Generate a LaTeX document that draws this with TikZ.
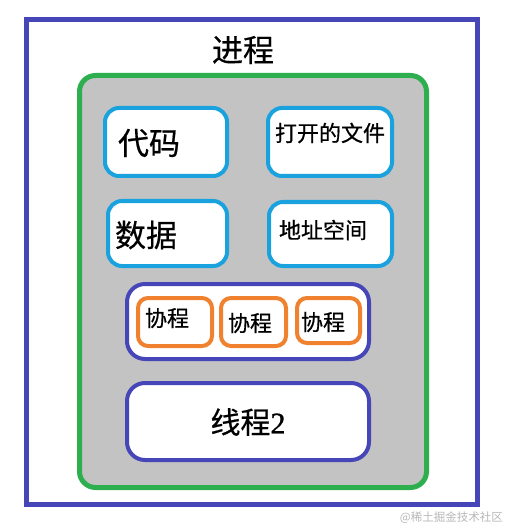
\documentclass[tikz,border=0pt]{standalone}
\usepackage{fontspec}
\newfontfamily\cjk[FakeBold=0.6]{Noto Sans CJK SC}
\newfontfamily\wmfont{Noto Sans CJK SC}
\newfontfamily\digitfont[FakeBold=1]{Liberation Serif}
\setmainfont{Liberation Serif}
\definecolor{frameblue}{HTML}{4646B9}
\definecolor{boxgreen}{HTML}{2DAF50}
\definecolor{boxcyan}{HTML}{1AA2DF}
\definecolor{boxorange}{HTML}{F0822F}
\definecolor{boxgray}{HTML}{C3C3C3}
\definecolor{wmgray}{HTML}{B8B8B8}
\begin{document}
\begin{tikzpicture}[x=1pt,y=-1pt,
  box/.style={draw, fill=white, inner sep=0pt, outer sep=0pt},
  cyanbox/.style={box, draw=boxcyan, line width=4pt, rounded corners=14pt},
  orangebox/.style={box, draw=boxorange, line width=4pt, rounded corners=10pt},
  bluebox/.style={box, draw=frameblue, line width=4pt, rounded corners=18pt},
  lbl/.style={inner sep=0pt, font=\cjk, text=black}]
\useasboundingbox (0,0) rectangle (508,529);
\fill[white] (0,0) rectangle (508,529);
% outer frame
\node[box, draw=frameblue, line width=5pt, minimum width=451pt, minimum height=485pt] (frame) at (252,262) {};
\node[lbl, font=\cjk\fontsize{31}{31}\selectfont] (title) at (243,50) {进程};
% process green box
\node[box, draw=boxgreen, fill=boxgray, line width=5pt, rounded corners=16pt, minimum width=347pt, minimum height=412pt] (proc) at (253,281.5) {};
% resources
\node[cyanbox, minimum width=122pt, minimum height=68pt] (code) at (166,142) {};
\node[cyanbox, minimum width=124pt, minimum height=68pt] (files) at (330,142) {};
\node[cyanbox, minimum width=119pt, minimum height=65pt] (data) at (167.5,233.5) {};
\node[cyanbox, minimum width=123pt, minimum height=64pt] (addr) at (330.5,234) {};
\node[lbl, font=\cjk\fontsize{31}{31}\selectfont] (codet) at (149,143) {代码};
\node[lbl, font=\cjk\fontsize{22}{22}\selectfont] (filest) at (330,133) {打开的文件};
\node[lbl, font=\cjk\fontsize{31}{31}\selectfont] (datat) at (146,235) {数据};
\node[lbl, font=\cjk\fontsize{22}{22}\selectfont] (addrt) at (323,230) {地址空间};
% thread 1 with coroutines
\node[bluebox, minimum width=242pt, minimum height=75pt] (thread1) at (248,321.5) {};
\node[orangebox, minimum width=74pt, minimum height=48pt] (co1) at (175,322) {};
\node[orangebox, minimum width=65pt, minimum height=48pt] (co2) at (253.5,322) {};
\node[orangebox, minimum width=63pt, minimum height=45pt] (co3) at (328.5,320.5) {};
\node[lbl, font=\cjk\fontsize{22}{22}\selectfont] (co1t) at (167,318) {协程};
\node[lbl, font=\cjk\fontsize{22}{22}\selectfont] (co2t) at (250,323) {协程};
\node[lbl, font=\cjk\fontsize{22}{22}\selectfont] (co3t) at (323,322) {协程};
% thread 2
\node[bluebox, minimum width=242pt, minimum height=77pt] (thread2) at (248,421.5) {};
\node[lbl, font=\fontsize{30}{30}\selectfont] (thread2t) at (248,422) {{\cjk 线程}{\digitfont 2}};
% watermark
\node[inner sep=0pt, font=\wmfont\fontsize{11.5}{11.5}\selectfont, text=wmgray, anchor=east] (wm) at (503,518) {@稀土掘金技术社区};
\end{tikzpicture}
\end{document}
